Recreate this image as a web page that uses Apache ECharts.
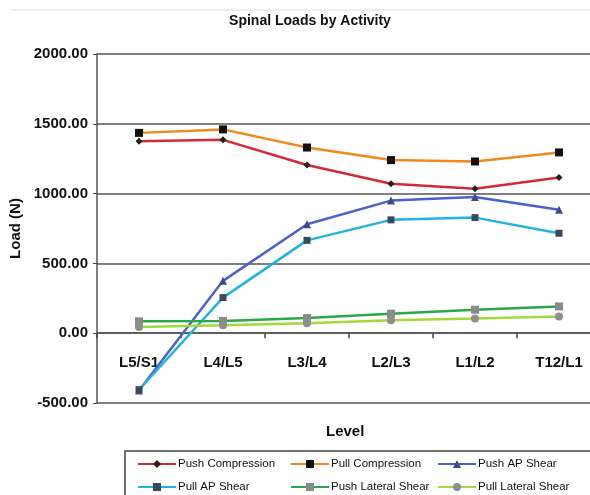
<!DOCTYPE html>
<html><head><meta charset="utf-8">
<script src="https://cdn.jsdelivr.net/npm/echarts@6/dist/echarts.min.js"></script>
<style>html,body{margin:0;padding:0;background:#fff}#c{width:590px;height:495px}</style>
</head><body><div id="c"></div>
<script>
const categories = ['L5/S1','L4/L5','L3/L4','L2/L3','L1/L2','T12/L1'];
const pushCompression = [1375, 1385, 1205, 1070, 1035, 1115];
const pullCompression = [1435, 1460, 1330, 1240, 1230, 1295];
const pushAPShear = [-410, 375, 780, 950, 975, 885];
const pullAPShear = [-405, 255, 665, 812, 828, 716];
const pushLateralShear = [85, 88, 108, 140, 168, 192];
const pullLateralShear = [45, 57, 72, 92, 105, 120];
const yTicks = [-500, 0, 500, 1000, 1500, 2000];

const seriesDefs = [
  {name:'Push Compression', data:pushCompression, line:'#d42a36', mark:'#222', symbol:'diamond', size:7},
  {name:'Pull Compression', data:pullCompression, line:'#f08a1c', mark:'#111', symbol:'rect', size:8},
  {name:'Push AP Shear', data:pushAPShear, line:'#4a62d0', mark:'#3d4a86', symbol:'triangle', size:8},
  {name:'Pull AP Shear', data:pullAPShear, line:'#20b4e2', mark:'#3a4a5c', symbol:'rect', size:7},
  {name:'Push Lateral Shear', data:pushLateralShear, line:'#2aa848', mark:'#8a8a8a', symbol:'rect', size:8},
  {name:'Pull Lateral Shear', data:pullLateralShear, line:'#a6d83a', mark:'#8e8e8e', symbol:'circle', size:8}
];
const legendPos = [[137,458],[290,458],[437,458],[137,481],[290,481],[437,481]];

const chart = echarts.init(document.getElementById('c'), null, {renderer:'canvas'});
chart.setOption({
  animation:false,
  title:{text:'Spinal Loads by Activity', left:305, top:9, textAlign:'center',
    textStyle:{fontFamily:'Liberation Sans', fontWeight:'bold', fontSize:14, color:'#111'}},
  grid:{left:97, top:54, width:504, height:349, containLabel:false, outerBoundsMode:'none'},
  legend: seriesDefs.map((s,i)=>({
    data:[s.name], left:legendPos[i][0], top:legendPos[i][1], itemWidth:38, itemHeight:10, itemGap:2,
    textStyle:{fontFamily:'Liberation Sans', fontSize:11.5, color:'#111', padding:[0,0,0,-3]}, padding:0
  })),
  graphic:[
    {type:'rect', shape:{x:125, y:451, width:470, height:60}, style:{fill:'none', stroke:'#444', lineWidth:1.5}},
    {type:'line', shape:{x1:10, y1:10, x2:590, y2:10}, style:{stroke:'#cfe3f0', lineWidth:1}},
    {type:'text', left:326, top:424, style:{text:'Level', font:'bold 15px "Liberation Sans"', fill:'#111'}}
  ],
  xAxis:{type:'category', data:categories, boundaryGap:true,
    axisLine:{onZero:true, lineStyle:{color:'#555', width:1.5}},
    axisTick:{show:true, length:5, lineStyle:{color:'#444', width:1.5}},
    axisLabel:{fontFamily:'Liberation Sans', fontWeight:'bold', fontSize:15, color:'#111', margin:-48}
  },
  yAxis:{type:'value', min:-500, max:2000, interval:500,
    name:'Load (N)', nameLocation:'middle', nameGap:68, nameRotate:90,
    nameTextStyle:{fontFamily:'Liberation Sans', fontWeight:'bold', fontSize:15, color:'#111'},
    axisLine:{show:true, lineStyle:{color:'#555', width:1.5}},
    axisTick:{show:true, length:4, lineStyle:{color:'#444'}},
    splitLine:{show:true, lineStyle:{color:'#555', width:1.5}},
    axisLabel:{fontFamily:'Liberation Sans', fontWeight:'bold', fontSize:15, color:'#111', margin:9,
      formatter:v=>yTicks.includes(v)?v.toFixed(2):''}
  },
  series: seriesDefs.map(s=>({
    name:s.name, type:'line', data:s.data, symbol:s.symbol, symbolSize:s.size,
    lineStyle:{color:s.line, width:2.5}, itemStyle:{color:s.mark},
    emphasis:{disabled:true}
  }))
});
</script></body></html>
